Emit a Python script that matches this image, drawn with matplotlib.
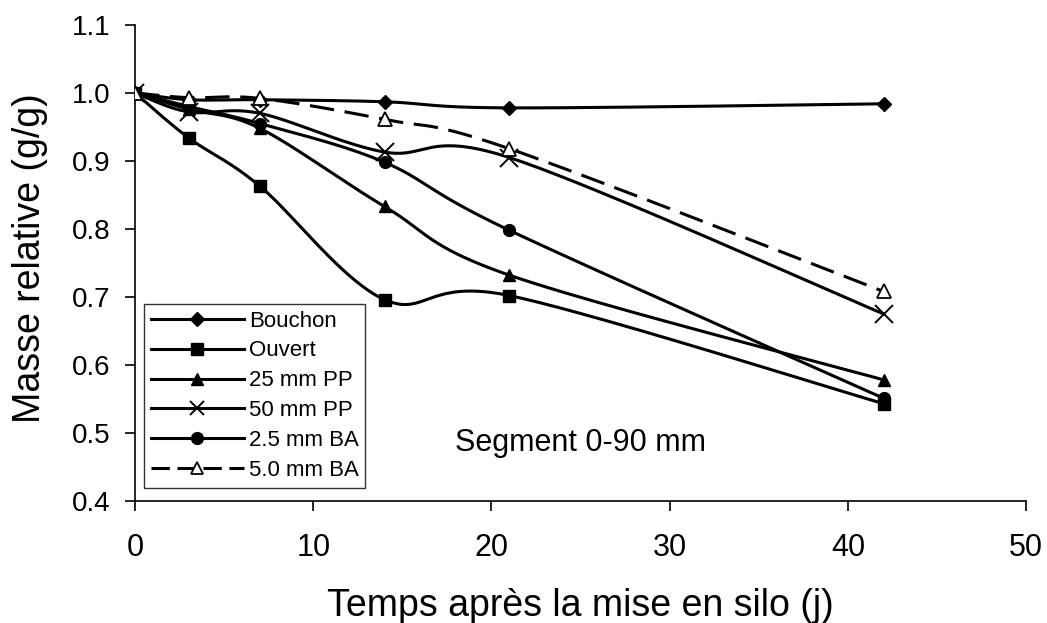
import numpy as np
import matplotlib
matplotlib.use("Agg")
import matplotlib.pyplot as plt
from matplotlib.lines import Line2D

plt.rcParams['font.family'] = ['Liberation Sans', 'DejaVu Sans']

days = [0, 3, 7, 14, 21, 42]
bouchon = [1.0, 0.990, 0.990, 0.987, 0.978, 0.984]
ouvert = [1.0, 0.934, 0.863, 0.696, 0.702, 0.543]
pp25 = [1.0, 0.976, 0.948, 0.833, 0.732, 0.578]
pp50 = [1.0, 0.972, 0.970, 0.913, 0.905, 0.675]
ba25 = [1.0, 0.980, 0.955, 0.898, 0.798, 0.551]
ba50 = [1.0, 0.993, 0.992, 0.961, 0.918, 0.708]

labels = ["Bouchon", "Ouvert", "25 mm PP", "50 mm PP", "2.5 mm BA", "5.0 mm BA"]
series = [bouchon, ouvert, pp25, pp50, ba25, ba50]
markers = ['D', 's', '^', 'x', 'o', '^']
xticks = [0, 10, 20, 30, 40, 50]
yticks = [0.4, 0.5, 0.6, 0.7, 0.8, 0.9, 1.0, 1.1]


def smooth(x, y, n=40):
    """Excel-like smoothed line (Bezier through points)."""
    x = np.asarray(x, float)
    y = np.asarray(y, float)
    P = np.column_stack([x, y])
    m = len(P)
    out = []
    for i in range(m - 1):
        p0 = P[i - 1] if i > 0 else P[i]
        p1 = P[i]
        p2 = P[i + 1]
        p3 = P[i + 2] if i + 2 < m else P[i + 1]
        c1 = p1 + (p2 - p0) / 6.0
        c2 = p2 - (p3 - p1) / 6.0
        t = np.linspace(0, 1, n)[:, None]
        seg = ((1 - t) ** 3) * p1 + 3 * ((1 - t) ** 2) * t * c1 + 3 * (1 - t) * t ** 2 * c2 + t ** 3 * p2
        if i > 0:
            seg = seg[1:]
        out.append(seg)
    out = np.vstack(out)
    return out[:, 0], out[:, 1]


fig = plt.figure(figsize=(10.47, 6.23), dpi=100)
ax = fig.add_axes([0.129, 0.196, 0.851, 0.764])

lw = 2.2
dash = (0, (8, 3.5))
handles = []
for lab, ys, mk in zip(labels, series, markers):
    xs, yy = smooth(days, ys)
    dashed = lab == "5.0 mm BA"
    ls = dash if dashed else '-'
    ax.plot(xs, yy, color='black', lw=lw, ls=ls, zorder=2)
    if mk == 'x':
        ax.plot(days, ys, ls='none', marker='x', ms=13, mew=1.4, color='black', zorder=3)
        h = Line2D([], [], color='black', lw=lw, marker='x', ms=10, mew=1.4)
    elif dashed:
        ax.plot(days, ys, ls='none', marker='^', ms=10, mfc='white', mec='black', mew=1.3, zorder=4)
        h = Line2D([], [], color='black', lw=lw, ls=(0, (6, 2.5)), marker='^', ms=9, mfc='white', mec='black', mew=1.3)
    else:
        ms = {'D': 7.5, 's': 8.5, '^': 9, 'o': 8.5}[mk]
        ax.plot(days, ys, ls='none', marker=mk, ms=ms, color='black', zorder=3)
        h = Line2D([], [], color='black', lw=lw, marker=mk, ms=ms)
    handles.append(h)

ax.set_xlim(0, 50)
ax.set_ylim(0.4, 1.1)
ax.set_xticks(xticks)
ax.set_yticks(yticks)
ax.set_yticklabels([f"{v:.1f}" for v in yticks])
ax.spines['top'].set_visible(False)
ax.spines['right'].set_visible(False)
ax.spines['left'].set_linewidth(1.2)
ax.spines['bottom'].set_linewidth(1.2)
ax.tick_params(direction='out', length=7, width=1.2)
ax.tick_params(axis='y', labelsize=20, pad=11)
ax.tick_params(axis='x', labelsize=22, pad=16)

ax.set_xlabel("Temps après la mise en silo (j)", fontsize=27)
ax.set_ylabel("Masse relative (g/g)", fontsize=27)
ax.xaxis.set_label_coords(0.5, -0.183)
ax.yaxis.set_label_coords(-0.098, 0.51)

ax.text(25, 0.485, "Segment 0-90 mm", fontsize=22, ha='center', va='center')

leg = ax.legend(handles, labels, loc='upper left',
                bbox_to_anchor=((144 - 135) / 891, (501 - 304) / 476),
                borderaxespad=0,
                fontsize=16, frameon=True, fancybox=False, edgecolor='black',
                handlelength=4.2, borderpad=0.3, labelspacing=0.4, handletextpad=0.22)
leg.get_frame().set_linewidth(1.0)

fig.savefig("out.png", dpi=100)
